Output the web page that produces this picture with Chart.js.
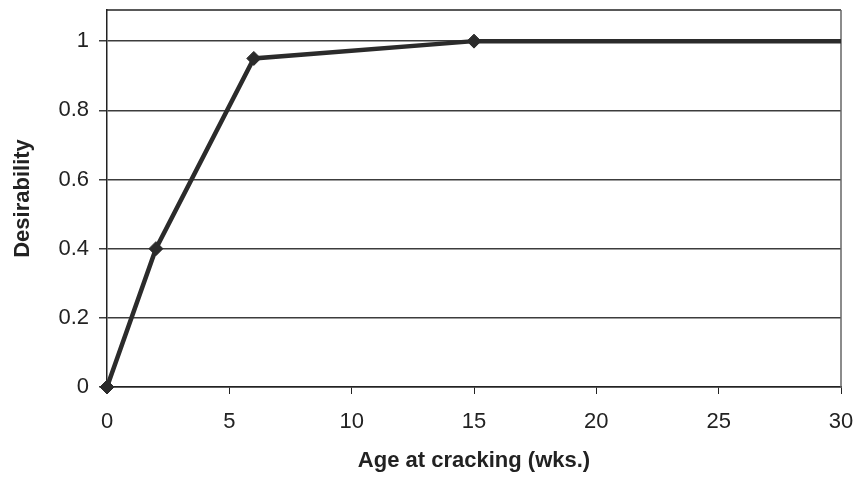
<!DOCTYPE html>
<html>
<head>
<meta charset="utf-8">
<script src="https://cdn.jsdelivr.net/npm/chart.js@4/dist/chart.umd.min.js"></script>
<style>
  html, body { margin: 0; padding: 0; background: #fff; }
  #wrap { width: 857px; height: 477px; }
</style>
</head>
<body>
<div id="wrap"><canvas id="chart" width="857" height="477"></canvas></div>
<script>
const ages = [0, 2, 6, 15, 30];
const desirability = [0, 0.4, 0.95, 1, 1];
const markerSizes = [7, 7, 7, 7, 0];
const yTicks = [0, 0.2, 0.4, 0.6, 0.8, 1];
const xTicks = [0, 5, 10, 15, 20, 25, 30];

const FONT = "'Liberation Sans', Arial, sans-serif";

// top and right frame lines of the plot box
const frame = {
  id: "frame",
  beforeDatasetsDraw(chart) {
    const { ctx, chartArea: a } = chart;
    ctx.save();
    ctx.lineWidth = 1.5;
    ctx.strokeStyle = "#222";
    ctx.beginPath();
    ctx.moveTo(a.left, a.top);
    ctx.lineTo(a.right, a.top);
    ctx.stroke();
    ctx.strokeStyle = "#666";
    ctx.beginPath();
    ctx.moveTo(a.right, a.top);
    ctx.lineTo(a.right, a.bottom);
    ctx.stroke();
    ctx.restore();
  },
};

new Chart(document.getElementById("chart"), {
  type: "line",
  data: {
    datasets: [
      {
        data: ages.map((x, i) => ({ x, y: desirability[i] })),
        borderColor: "#2b2b2b",
        borderWidth: 4.5,
        pointStyle: "rectRot",
        pointRadius: markerSizes,
        pointBackgroundColor: "#2b2b2b",
        pointBorderColor: "#2b2b2b",
        pointBorderWidth: 1,
        tension: 0,
        clip: false,
      },
    ],
  },
  plugins: [frame],
  options: {
    responsive: false,
    animation: false,
    layout: { padding: { top: 10, right: 16, left: 0, bottom: 0 } },
    plugins: { legend: false, tooltip: { enabled: false } },
    scales: {
      x: {
        type: "linear",
        min: 0,
        max: 30,
        afterBuildTicks: (s) => { s.ticks = xTicks.map((v) => ({ value: v })); },
        afterFit: (s) => {
          s.height = 90;
          s.paddingLeft = 0;
          s.paddingRight = 0;
        },
        grid: { drawOnChartArea: false, drawTicks: true, tickLength: 7, color: "#222" },
        border: { color: "#222", width: 1.5 },
        ticks: { color: "#222", font: { family: FONT, size: 22 }, padding: 15, maxRotation: 0 },
        title: {
          display: true,
          text: "Age at cracking (wks.)",
          color: "#222",
          font: { family: FONT, size: 22, weight: "bold" },
          padding: { top: 0, bottom: 3 },
        },
      },
      y: {
        min: 0,
        max: 1.09,
        afterBuildTicks: (s) => { s.ticks = yTicks.map((v) => ({ value: v })); },
        afterFit: (s) => {
          s.width = 107;
          s.paddingTop = 0;
          s.paddingBottom = 0;
        },
        grid: { color: "#3c3c3c", lineWidth: 1.5, tickLength: 8 },
        border: { color: "#222", width: 1.5 },
        ticks: {
          color: "#222",
          font: { family: FONT, size: 22 },
          padding: 10,
          callback: (v) => String(Math.round(v * 10) / 10),
        },
        title: {
          display: true,
          text: "Desirability",
          color: "#222",
          font: { family: FONT, size: 22, weight: "bold" },
          padding: { top: 10, bottom: 0 },
        },
      },
    },
  },
});
</script>
</body>
</html>
